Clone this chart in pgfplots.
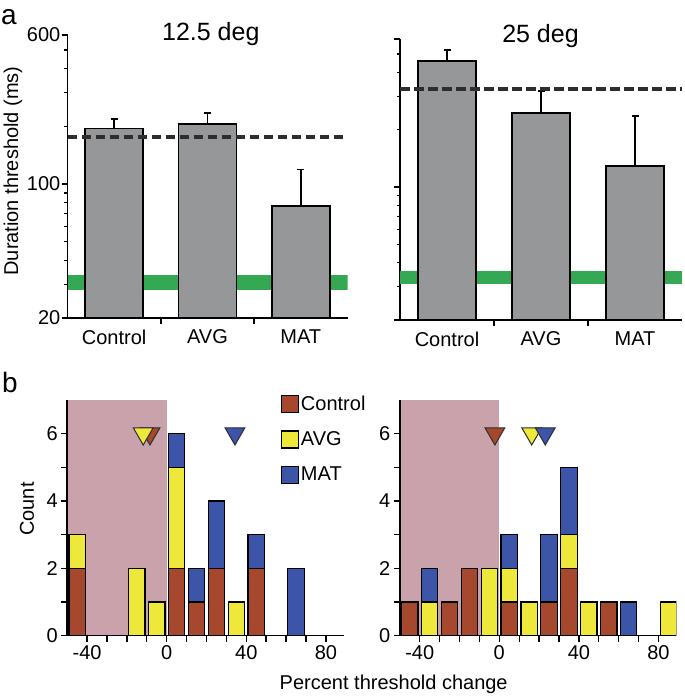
\documentclass[border=0pt]{standalone}
\usepackage{fontspec}
\setmainfont{Liberation Sans}
\usepackage{pgfplots}
\usepackage{pgfplotstable}
\pgfplotsset{compat=1.18}
\definecolor{bargray}{RGB}{150,151,153}
\definecolor{bandgreen}{RGB}{52,168,83}
\definecolor{ctrl}{RGB}{165,72,46}
\definecolor{avg}{RGB}{238,232,58}
\definecolor{mat}{RGB}{61,85,168}
\definecolor{pinkbg}{RGB}{201,162,171}
\definecolor{dashgray}{RGB}{45,45,45}

\pgfplotstableread{
x   C A M
-45 2 1 0
-35 0 0 0
-25 0 0 0
-15 0 2 0
-5  0 1 0
5   2 3 1
15  1 0 1
25  2 0 2
35  0 1 0
45  2 0 1
55  0 0 0
65  0 0 2
75  0 0 0
85  0 0 0
}\histL
\pgfplotstableread{
x   C A M
-45 1 0 0
-35 0 1 1
-25 1 0 0
-15 2 0 0
-5  0 2 0
5   1 1 1
15  0 1 0
25  1 0 2
35  2 1 2
45  0 1 0
55  1 0 0
65  0 0 1
75  0 0 0
85  0 1 0
}\histR

\pgfplotsset{
  base/.style={scale only axis, axis lines*=left,
    axis line style={line width=1.6bp,-},
    tick style={line width=1.4bp, black},
    tick align=outside, major tick length=6bp, minor tick length=3.5bp,
    font=\fontsize{20bp}{24bp}\selectfont,
    tick label style={font=\fontsize{20bp}{24bp}\selectfont},
    /pgf/number format/assume math mode=true},
  topax/.style={base, width=280bp, height=283bp, xmin=-0.5, xmax=2.5,
    ymin=20, ymax=600, log origin y=infty,
    xtick={0.5,1.5}, xticklabels={},
    extra x ticks={0,1,2}, extra x tick labels={Control,AVG,MAT},
    extra x tick style={major tick length=0pt, xticklabel style={yshift=-8bp}},
    ytick={20,100,600},
    yticklabel style={inner xsep=1bp},
    minor ytick={30,40,50,60,70,80,90,200,300,400,500}},
  histax/.style={base, width=276.6bp, height=235.9bp, xmin=-50, xmax=89, ymin=0, ymax=7,
    xtick={-40,0,40,80}, minor xtick={-30,-20,-10,10,20,30,50,60,70},
    ytick={0,2,4,6}, minor ytick={1,3,5}, minor tick length=6bp},
  overax/.style={scale only axis, hide axis, width=276.6bp, height=235.9bp,
    xmin=-50, xmax=89, ymin=0, ymax=7},
  sqlegend/.style={legend image code/.code={\draw[##1, line width=1.4bp] (0bp,-8.5bp) rectangle (17bp,8.5bp);}},
  tri/.style={only marks, mark=triangle*, mark size=11.5bp,
    mark options={rotate=180, fill=#1, draw=dashgray, line width=1bp}},
  barerr/.style={ybar, bar width=0.62, fill=bargray, draw=black, line width=1.8bp,
    error bars/y dir=plus, error bars/y explicit,
    error bars/error bar style={line width=1.8bp, black},
    error bars/error mark options={rotate=90, mark size=3.5bp, line width=1.8bp, black}}
}

\begin{document}
\begin{tikzpicture}
\path[use as bounding box] (0bp,0bp) rectangle (685bp,697bp);

% ---- top left
\begin{semilogyaxis}[topax, at={(67.5bp,379bp)}, anchor=south west, yticklabels={20,100,600}]
\addplot[bandgreen, line width=14.7bp, forget plot] coordinates {(-0.5,30.6) (2.5,30.6)};
\addplot[barerr] coordinates {(0,195) +- (0,24) (1,206) +- (0,28) (2,77) +- (0,42)};
\addplot[dashgray, line width=4bp, dash pattern=on 9.5bp off 4.5bp] coordinates {(-0.5,177) (2.5,177)};
\end{semilogyaxis}

% ---- top right
\begin{semilogyaxis}[topax, at={(400bp,377bp)}, anchor=south west, width=282bp, height=281bp, yticklabels={}]
\addplot[bandgreen, line width=13.3bp, forget plot] coordinates {(-0.5,33.5) (2.5,33.5)};
\addplot[barerr] coordinates {(0,460) +- (0,65) (1,246) +- (0,75) (2,129.5) +- (0,106.5)};
\addplot[dashgray, line width=4bp, dash pattern=on 9.5bp off 4.5bp] coordinates {(-0.5,327) (2.5,327)};
\end{semilogyaxis}

% ---- bottom left
\begin{axis}[overax, at={(67.2bp,61.3bp)}, anchor=south west]
\addplot[fill=pinkbg, draw=none] coordinates {(-50,7) (0,7)} \closedcycle;
\addplot[tri=ctrl] coordinates {(-8.4,6)};
\addplot[tri=avg] coordinates {(-11.8,6)};
\addplot[tri=mat] coordinates {(34.3,6)};
\end{axis}
\begin{axis}[histax, ybar stacked, bar width=8.2, at={(67.2bp,61.3bp)}, anchor=south west,
  legend style={at={(0.76,1.035)}, anchor=north west, draw=none, fill=none,
    row sep=16bp, font=\fontsize{20bp}{24bp}\selectfont},
  legend cell align=left]
\addplot[fill=ctrl, draw=black, line width=1.2bp, sqlegend] table[x=x,y=C]{\histL};
\addplot[fill=avg, draw=black, line width=1.2bp, sqlegend] table[x=x,y=A]{\histL};
\addplot[fill=mat, draw=black, line width=1.2bp, sqlegend] table[x=x,y=M]{\histL};
\legend{Control,AVG,MAT}
\end{axis}

% ---- bottom right
\begin{axis}[overax, at={(399.8bp,61.3bp)}, anchor=south west]
\addplot[fill=pinkbg, draw=none] coordinates {(-50,7) (0,7)} \closedcycle;
\addplot[tri=ctrl] coordinates {(-2.2,6)};
\addplot[tri=avg] coordinates {(16.3,6)};
\addplot[tri=mat] coordinates {(23.1,6)};
\end{axis}
\begin{axis}[histax, ybar stacked, bar width=8.2, at={(399.8bp,61.3bp)}, anchor=south west]
\addplot[fill=ctrl, draw=black, line width=1.2bp] table[x=x,y=C]{\histR};
\addplot[fill=avg, draw=black, line width=1.2bp] table[x=x,y=A]{\histR};
\addplot[fill=mat, draw=black, line width=1.2bp] table[x=x,y=M]{\histR};
\end{axis}

% ---- text
\node[font=\fontsize{25bp}{30bp}\selectfont] at (210.8bp,663bp) {12.5 deg};
\node[font=\fontsize{25bp}{30bp}\selectfont] at (540.5bp,661bp) {25 deg};
\node[font=\fontsize{28bp}{32bp}\selectfont, anchor=base west, inner sep=0pt] at (1bp,672bp) {a};
\node[font=\fontsize{28bp}{32bp}\selectfont, anchor=base west, inner sep=0pt] at (2bp,304bp) {b};
\node[font=\fontsize{20bp}{24bp}\selectfont, rotate=90] at (13bp,526bp) {Duration threshold (ms)};
\node[font=\fontsize{20bp}{24bp}\selectfont, rotate=90] at (27bp,188bp) {Count};
\node[font=\fontsize{20bp}{24bp}\selectfont] at (393.7bp,13bp) {Percent threshold change};
\end{tikzpicture}
\end{document}
